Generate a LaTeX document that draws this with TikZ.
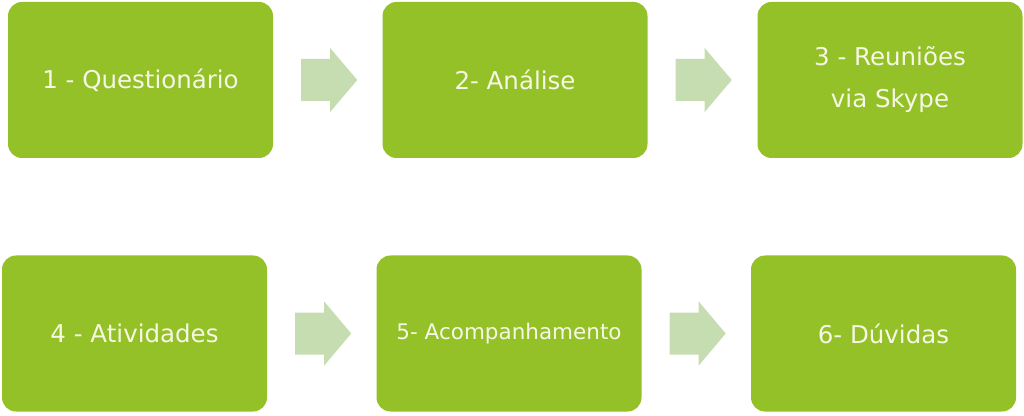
\documentclass[tikz,border=0pt]{standalone}
\usepackage{fontspec}
\setmainfont{DejaVu Sans}
\usetikzlibrary{calc}
\definecolor{boxgreen}{HTML}{93C127}
\definecolor{arrowgreen}{HTML}{C6DDB2}
\definecolor{txt}{HTML}{F7F7E6}
\tikzset{
  stepbox/.style={fill=boxgreen, draw=none, rounded corners=14pt, minimum width=265pt, minimum height=156pt, inner sep=0pt, align=center, text=txt, font=\fontsize{24.5}{42}\selectfont},
  blockarrow/.style={fill=arrowgreen, draw=none}
}
\begin{document}
\begin{tikzpicture}[x=1pt,y=1pt]
\useasboundingbox (0,0) rectangle (1024,415);
\node[stepbox] (b1) at (140.5,335) {1 - Questionário};
\node[stepbox] (b2) at (515,335) {2- Análise};
\node[stepbox] (b3) at (890,335) {3 - Reuniões\\via Skype};
\node[stepbox] (b4) at (134.5,81.5) {4 - Atividades};
\node[stepbox, font=\fontsize{21.5}{30}\selectfont] (b5) at (509,81.5) {5- Acompanhamento};
\node[stepbox] (b6) at (883.5,81.5) {6- Dúvidas};
\foreach \a/\b in {b1/b2,b2/b3,b4/b5,b5/b6}{
  \fill[blockarrow] ($(\a.east)+(28,-21)$) -- ++(29,0) -- ++(0,-11) -- ($(\a.east)+(84,0)$) -- ($(\a.east)+(57,32)$) -- ++(0,-11) -- ($(\a.east)+(28,21)$) -- cycle;
}
\end{tikzpicture}
\end{document}
